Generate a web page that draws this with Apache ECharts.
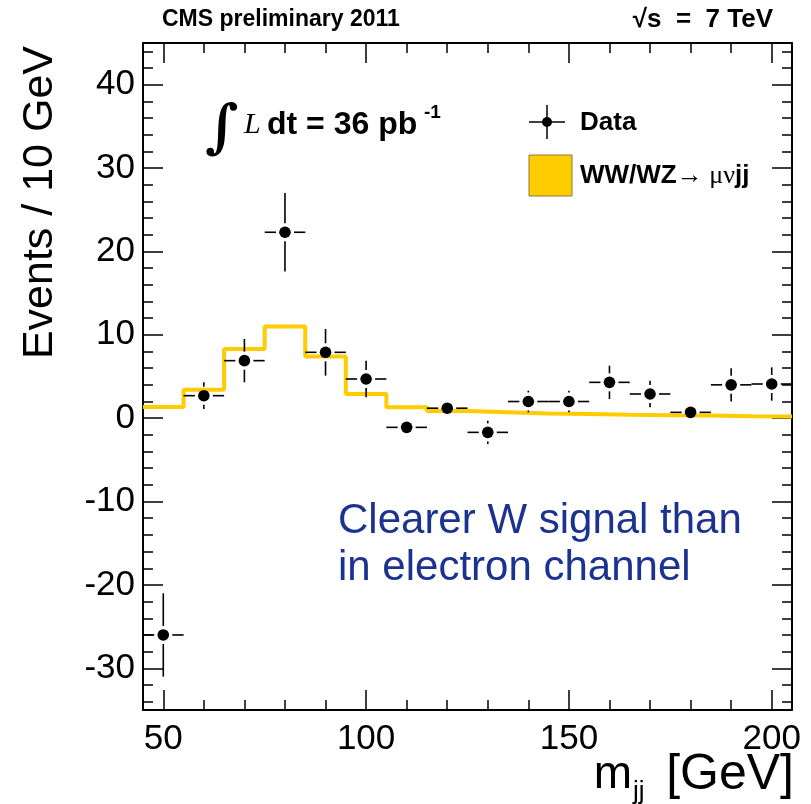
<!DOCTYPE html>
<html>
<head>
<meta charset="utf-8">
<script src="https://cdn.jsdelivr.net/npm/echarts@6/dist/echarts.min.js"></script>
<style>html,body{margin:0;padding:0;background:#fff}#c{width:811px;height:804px}</style>
</head>
<body>
<div id="c"></div>
<script>
// ---- data ----
const binCenters = [50, 60, 70, 80, 90, 100, 110, 120, 130, 140, 150, 160, 170, 180, 190, 200];
const dataValues = [-26.0, 2.7, 6.9, 22.3, 7.9, 4.7, -1.1, 1.2, -1.7, 2.0, 2.0, 4.3, 2.9, 0.7, 4.0, 4.1];
const dataErrors = [5.0, 1.6, 2.6, 4.7, 2.8, 2.2, 1.1, 1.0, 1.4, 1.3, 1.3, 2.0, 1.6, 0.7, 2.0, 2.0];
const binEdges = [45, 55, 65, 75, 85, 95, 105, 115, 125, 135, 145, 155, 165, 175, 185, 195, 205];
const mcValues = [1.35, 3.4, 8.3, 11.0, 7.4, 2.9, 1.3, 0.85, 0.72, 0.56, 0.5, 0.42, 0.36, 0.32, 0.22, 0.2];
const xMajorTicks = [50, 100, 150, 200];
const xMinorTicks = [50, 60, 70, 80, 90, 100, 110, 120, 130, 140, 150, 160, 170, 180, 190, 200];
const yMajorTicks = [-30, -20, -10, 0, 10, 20, 30, 40];
const yMinorTicks = [-34, -32, -30, -28, -26, -24, -22, -20, -18, -16, -14, -12, -10, -8, -6, -4, -2, 0, 2, 4, 6, 8, 10, 12, 14, 16, 18, 20, 22, 24, 26, 28, 30, 32, 34, 36, 38, 40, 42, 44];
const halfBin = 5;

const FONT = "'Liberation Sans', Arial, Helvetica, sans-serif";
const SERIF = "'Liberation Serif', 'Times New Roman', serif";
const chart = echarts.init(document.getElementById('c'), null, {renderer: 'canvas'});

const mcLine = binEdges.map((e, i) => [e, mcValues[Math.min(i, mcValues.length - 1)]]);
const points = binCenters.map((x, i) => [x, dataValues[i], dataErrors[i]]);

function mkX(pos, ticks, len, showLine, showLabel) {
  return {
    type: 'value', position: pos, min: 45, max: 205, gridIndex: 0,
    axisLine: {show: showLine, onZero: false, lineStyle: {color: '#000', width: 2}},
    axisTick: {show: true, inside: true, length: len, customValues: ticks, lineStyle: {color: '#000', width: 1.5}},
    axisLabel: {show: showLabel, customValues: xMajorTicks, fontSize: 35, color: '#000', fontFamily: FONT, margin: 12},
    splitLine: {show: false}, minorTick: {show: false}
  };
}
function mkY(pos, ticks, len, showLine, showLabel) {
  return {
    type: 'value', position: pos, min: -35, max: 45, gridIndex: 0,
    axisLine: {show: showLine, onZero: false, lineStyle: {color: '#000', width: 2}},
    axisTick: {show: true, inside: true, length: len, customValues: ticks, lineStyle: {color: '#000', width: 1.5}},
    axisLabel: {show: showLabel, customValues: yMajorTicks, fontSize: 35, color: '#000', fontFamily: FONT, margin: 8},
    splitLine: {show: false}, minorTick: {show: false}
  };
}

const option = {
  animation: false,
  backgroundColor: '#fff',
  grid: {left: 143, right: 19, top: 43, bottom: 94},
  xAxis: [
    mkX('bottom', xMajorTicks, 20, true, true),
    mkX('bottom', xMinorTicks, 10, false, false),
    mkX('top', xMajorTicks, 20, true, false),
    mkX('top', xMinorTicks, 10, false, false)
  ],
  yAxis: [
    mkY('left', yMajorTicks, 20, true, true),
    mkY('left', yMinorTicks, 10, false, false),
    mkY('right', yMajorTicks, 20, true, false),
    mkY('right', yMinorTicks, 10, false, false)
  ],
  series: [
    {
      type: 'line', xAxisIndex: 0, yAxisIndex: 0, step: 'end', data: mcLine,
      symbol: 'none', lineStyle: {color: '#FFCC00', width: 4}, z: 2
    },
    {
      type: 'custom', xAxisIndex: 0, yAxisIndex: 0, data: points, z: 5, clip: true,
      renderItem: function (params, api) {
        const x = api.value(0), y = api.value(1), e = api.value(2);
        const c = api.coord([x, y]);
        const l = api.coord([x - halfBin, y]), r = api.coord([x + halfBin, y]);
        const t = api.coord([x, y + e]), b = api.coord([x, y - e]);
        const gap = 9;
        const st = {stroke: '#000', lineWidth: 1.6};
        const ch = [];
        if (c[0] - l[0] > gap) ch.push({type: 'line', shape: {x1: l[0], y1: c[1], x2: c[0] - gap, y2: c[1]}, style: st});
        if (r[0] - c[0] > gap) ch.push({type: 'line', shape: {x1: c[0] + gap, y1: c[1], x2: r[0], y2: c[1]}, style: st});
        if (c[1] - t[1] > gap) ch.push({type: 'line', shape: {x1: c[0], y1: t[1], x2: c[0], y2: c[1] - gap}, style: st});
        if (b[1] - c[1] > gap) ch.push({type: 'line', shape: {x1: c[0], y1: c[1] + gap, x2: c[0], y2: b[1]}, style: st});
        ch.push({type: 'circle', shape: {cx: c[0], cy: c[1], r: 5.8}, style: {fill: '#000'}});
        return {type: 'group', children: ch};
      }
    }
  ],
  graphic: [
    {type: 'text', x: 162, y: 20, style: {text: 'CMS preliminary 2011', font: 'bold 23px ' + FONT, fill: '#000', verticalAlign: 'middle'}},
    {type: 'text', x: 773, y: 20, style: {text: '\u221As  =  7 TeV', font: 'bold 26px ' + FONT, fill: '#000', align: 'right', verticalAlign: 'middle'}},
    {type: 'text', x: 40, y: 46, rotation: Math.PI / 2, style: {text: 'Events / 10 GeV', font: '43px ' + FONT, fill: '#000', align: 'right', verticalAlign: 'middle'}},
    {type: 'text', x: 794, y: 775, style: {text: '[GeV]', font: '50px ' + FONT, fill: '#000', align: 'right', verticalAlign: 'middle'}},
    {type: 'text', x: 633, y: 792, style: {text: 'jj', font: '26px ' + FONT, fill: '#000', align: 'left', verticalAlign: 'middle'}},
    {type: 'text', x: 632, y: 775, style: {text: 'm', font: '46px ' + FONT, fill: '#000', align: 'right', verticalAlign: 'middle'}},
    // integral luminosity
    {type: 'text', x: 205, y: 131, style: {text: '\u222B', font: 'bold 58px "DejaVu Serif", ' + SERIF, fill: '#000', verticalAlign: 'middle'}},
    {type: 'text', x: 244, y: 125, style: {text: 'L', font: 'italic 30px ' + SERIF, fill: '#000', verticalAlign: 'middle'}},
    {type: 'text', x: 267, y: 125, style: {text: 'dt = 36 pb', font: 'bold 32px ' + FONT, fill: '#000', verticalAlign: 'middle'}},
    {type: 'text', x: 424, y: 113, style: {text: '-1', font: 'bold 19px ' + FONT, fill: '#000', verticalAlign: 'middle'}},
    // legend
    {type: 'line', shape: {x1: 529, y1: 122, x2: 565, y2: 122}, style: {stroke: '#000', lineWidth: 1.5}},
    {type: 'line', shape: {x1: 547, y1: 105, x2: 547, y2: 139}, style: {stroke: '#000', lineWidth: 1.5}},
    {type: 'circle', shape: {cx: 547, cy: 122, r: 5}, style: {fill: '#000'}},
    {type: 'text', x: 580, y: 123, style: {text: 'Data', font: 'bold 26px ' + FONT, fill: '#000', verticalAlign: 'middle'}},
    {type: 'rect', shape: {x: 529, y: 155, width: 43, height: 41}, style: {fill: '#FFCC00', stroke: '#8a7a3a', lineWidth: 1}},
    {type: 'text', x: 580, y: 176, style: {
      text: '{b|WW/WZ}{r|\u2192 \u03BC\u03BD}{b|jj}',
      verticalAlign: 'middle',
      rich: {
        b: {font: 'bold 26px ' + FONT, fill: '#000'},
        r: {font: '26px ' + SERIF, fill: '#000'}
      }
    }},
    // annotation
    {type: 'text', x: 338, y: 545, style: {text: 'Clearer W signal than\nin electron channel', font: '42px ' + FONT, fill: '#1c3290', verticalAlign: 'middle', lineHeight: 47}}
  ]
};
chart.setOption(option);
</script>
</body>
</html>
